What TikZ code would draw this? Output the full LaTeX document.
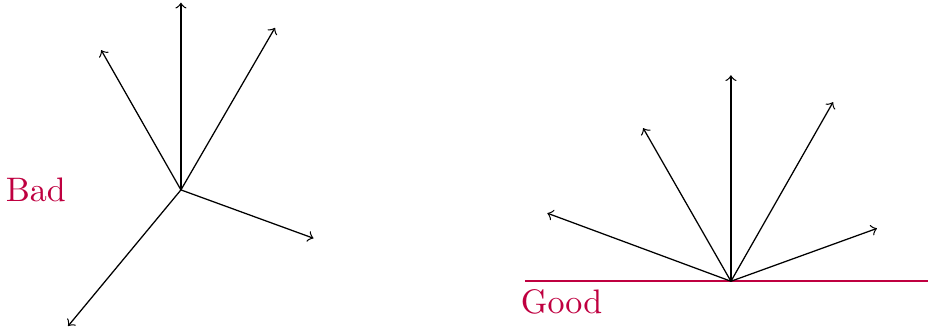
\documentclass[tikz,border=0pt]{standalone}
\usepackage{tikz}
\usetikzlibrary{positioning, calc}

\begin{document}
\begin{tikzpicture}[
        % Define styles
        vec/.style={draw, ->},
        caption/.style={text=purple, inner sep=0pt, font=\fontsize{10.8}{12}\selectfont},
        groundline/.style={draw, color=purple, line width=0.6pt}
    ]
    \useasboundingbox (-2.02,-1.60) rectangle (8.34,2.12);

    % --- Bad: vectors spread around the origin ---
    \coordinate (o1) at (0,0);
    \coordinate (b1) at (0,2.09);
    \coordinate (b2) at (-0.89,1.56);
    \coordinate (b3) at (1.05,1.81);
    \coordinate (b4) at (1.48,-0.54);
    \coordinate (b5) at (-1.26,-1.52);
    \node[caption] (bad) at (-1.62,0) {Bad};

    \foreach \t in {b1,b2,b3,b4,b5}
        \draw[vec] (o1) -- (\t);

    % --- Good: vectors above a base line ---
    \coordinate (o2) at (6.14,-1.02);
    \coordinate (g1) at ($(o2)+(0,2.30)$);
    \coordinate (g2) at ($(o2)+(-0.98,1.71)$);
    \coordinate (g3) at ($(o2)+(1.14,2.00)$);
    \coordinate (g4) at ($(o2)+(-2.05,0.76)$);
    \coordinate (g5) at ($(o2)+(1.63,0.59)$);
    \coordinate (lineL) at ($(o2)+(-2.30,0)$);
    \coordinate (lineR) at ($(o2)+(2.20,0)$);
    \node[caption] (good) at ($(o2)+(-1.89,-0.23)$) {Good};

    \draw[groundline] (lineL) -- (lineR);
    \foreach \t in {g1,g2,g3,g4,g5}
        \draw[vec] (o2) -- (\t);

\end{tikzpicture}
\end{document}
